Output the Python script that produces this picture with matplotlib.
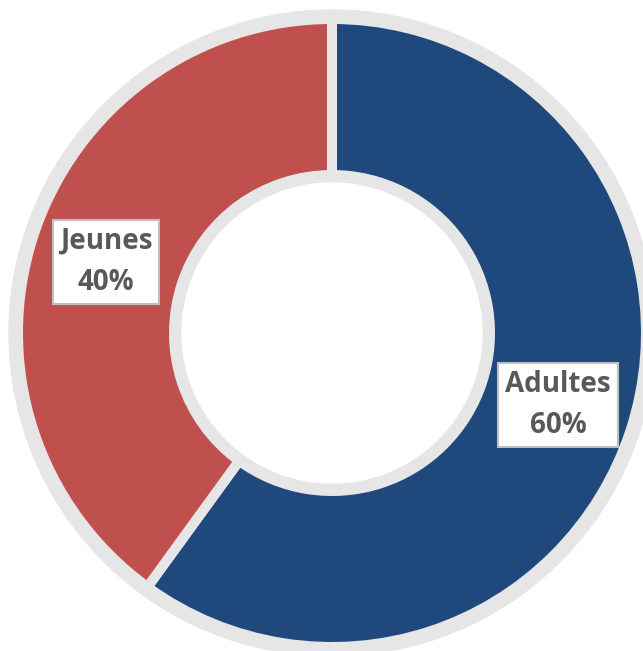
#!/usr/bin/env python3
"""Donut chart: Adultes / Jeunes."""
import matplotlib
matplotlib.use("Agg")
import matplotlib.pyplot as plt
from matplotlib.patches import Circle

labels = ["Adultes", "Jeunes"]
shares = [60, 40]
colors = ["#1F497D", "#C0504D"]
label_pos = [(558, 246), (106, 389)]

ring_gray = "#E7E6E6"

fig = plt.figure(figsize=(6.43, 6.51), dpi=100)
ax = fig.add_axes([0, 0, 1, 1])

cx, cy = 332, 318

# Gray backing disk (outer rim + inner rim)
ax.add_patch(Circle((cx, cy), 323, color=ring_gray, zorder=0))

# Wedges
ax.pie(shares, colors=colors, startangle=90, counterclock=False,
       center=(cx, cy), radius=314, frame=True,
       wedgeprops=dict(width=156, edgecolor=ring_gray, linewidth=7.2))

# Hole
ax.add_patch(Circle((cx, cy), 150, color="white", zorder=5))

# Set axis limit
ax.set_xlim(0, 643)
ax.set_ylim(0, 651)
ax.set_aspect("equal")
ax.axis("off")

# Set labels
for lab, val, (x, y) in zip(labels, shares, label_pos):
    ax.text(x, y, f"{lab}\n{val}%", ha="center", va="center",
            fontsize=20, fontweight="bold", family="Open Sans",
            color="#595959", linespacing=1.55, zorder=10,
            bbox=dict(boxstyle="square,pad=0.26", facecolor="white",
                      edgecolor="#BFBFBF", linewidth=1.5))

fig.savefig("out.png", dpi=100)
